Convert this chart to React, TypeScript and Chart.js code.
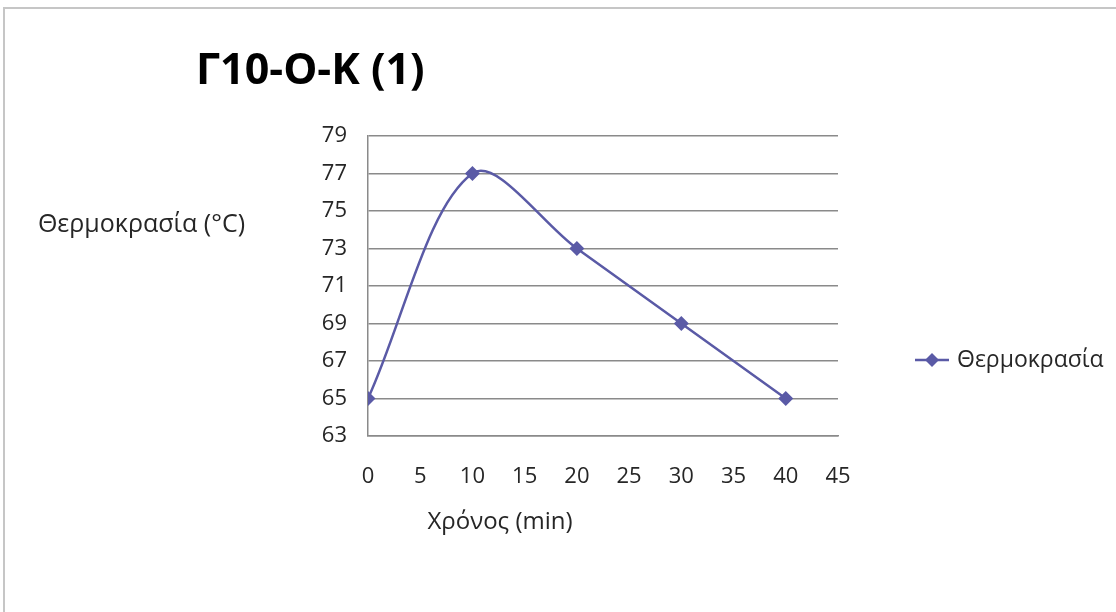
import { useEffect, useRef } from "react";
import { Chart, registerables } from "chart.js";

Chart.register(...registerables);

// Measured series: time in minutes vs. temperature in °C
const minutes = [0, 10, 20, 30, 40];
const temperatures = [65, 77, 73, 69, 65];

// Axis ranges and tick steps
const xRange = [0, 45];
const xStep = 5;
const yRange = [63, 79];
const yStep = 2;

// Text
const chartTitle = "Γ10-Ο-Κ (1)";
const seriesName = "Θερμοκρασία";
const xAxisTitle = "Χρόνος (min)";
const yAxisTitle = "Θερμοκρασία (°C)";

const FONT = '"Open Sans", "Noto Sans", sans-serif';
const LINE_COLOR = "#5a5aa6";
const GRID_COLOR = "#8a8a8a";
const TEXT_COLOR = "#262626";

// Draws the frame, title, axis titles and the legend entry
const decorations = {
  id: "decorations",
  afterDraw(chart: any) {
    const { ctx } = chart;
    ctx.save();

    // outer frame (top and left edges)
    ctx.strokeStyle = "#c6c6c6";
    ctx.lineWidth = 2;
    ctx.beginPath();
    ctx.moveTo(4, chart.height);
    ctx.lineTo(4, 8);
    ctx.lineTo(chart.width, 8);
    ctx.stroke();

    // chart title
    ctx.fillStyle = "#000000";
    ctx.textBaseline = "middle";
    ctx.textAlign = "left";
    ctx.font = `bold 43px ${FONT}`;
    ctx.fillText(chartTitle, 196, 72);

    // axis titles
    ctx.fillStyle = TEXT_COLOR;
    ctx.font = `25px ${FONT}`;
    ctx.textAlign = "right";
    ctx.fillText(yAxisTitle, 245, 225);
    ctx.font = `24px ${FONT}`;
    ctx.textAlign = "center";
    ctx.fillText(xAxisTitle, 500, 522);

    // legend entry: line with diamond marker
    const ly = 360;
    ctx.strokeStyle = LINE_COLOR;
    ctx.lineWidth = 2.5;
    ctx.beginPath();
    ctx.moveTo(915, ly);
    ctx.lineTo(949, ly);
    ctx.stroke();
    ctx.fillStyle = LINE_COLOR;
    ctx.beginPath();
    ctx.moveTo(932, ly - 7);
    ctx.lineTo(939, ly);
    ctx.lineTo(932, ly + 7);
    ctx.lineTo(925, ly);
    ctx.closePath();
    ctx.fill();
    ctx.fillStyle = TEXT_COLOR;
    ctx.textAlign = "left";
    ctx.font = `23px ${FONT}`;
    ctx.fillText(seriesName, 957, ly);

    ctx.restore();
  },
};

export default function App() {
  const canvasRef = useRef<HTMLCanvasElement | null>(null);

  useEffect(() => {
    const canvas = canvasRef.current;
    if (!canvas) return;
    const points = minutes.map((m, i) => ({ x: m, y: temperatures[i] }));

    const chart = new Chart(canvas, {
      type: "scatter",
      data: {
        datasets: [
          {
            label: seriesName,
            data: points,
            showLine: true,
            tension: 0.33,
            borderColor: LINE_COLOR,
            backgroundColor: LINE_COLOR,
            borderWidth: 2.5,
            pointStyle: "rectRot",
            pointRadius: 7.5,
            pointBorderWidth: 0,
          },
        ],
      },
      options: {
        responsive: false,
        animation: false,
        devicePixelRatio: 1,
        layout: { padding: { left: 0, top: 136, right: 278, bottom: 0 } },
        plugins: {
          legend: { display: false },
          title: { display: false },
          tooltip: { enabled: false },
        },
        scales: {
          x: {
            type: "linear",
            min: xRange[0],
            max: xRange[1],
            ticks: {
              stepSize: xStep,
              padding: 28,
              color: TEXT_COLOR,
              font: { family: FONT, size: 22 },
              maxRotation: 0,
            },
            grid: { drawOnChartArea: false, drawTicks: false },
            border: { display: true, color: GRID_COLOR, width: 1.5 },
            afterFit(scale: any) {
              scale.height = 176;
            },
          },
          y: {
            type: "linear",
            min: yRange[0],
            max: yRange[1],
            ticks: {
              stepSize: yStep,
              padding: 21,
              color: TEXT_COLOR,
              font: { family: FONT, size: 22 },
            },
            grid: { color: GRID_COLOR, lineWidth: 1.5, drawTicks: false },
            border: { display: true, color: GRID_COLOR, width: 1.5 },
            afterFit(scale: any) {
              scale.width = 368;
            },
          },
        },
      },
      plugins: [decorations],
    });

    return () => chart.destroy();
  }, []);

  return (
    <div style={{ position: "fixed", left: 0, top: 0, width: 1116, height: 612, background: "#ffffff" }}>
      <canvas ref={canvasRef} width={1116} height={612} style={{ display: "block" }} />
    </div>
  );
}
